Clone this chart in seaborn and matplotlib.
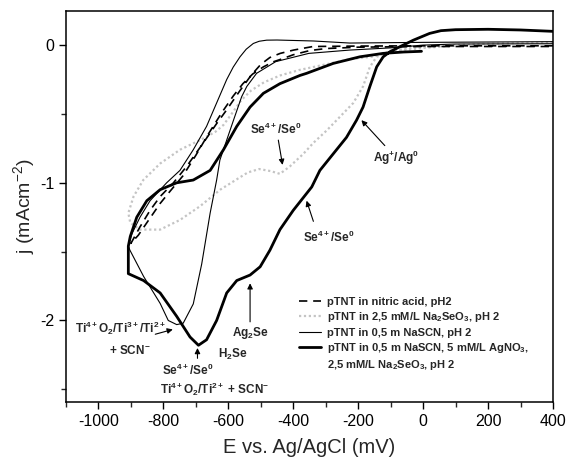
import matplotlib
matplotlib.use('Agg')
import matplotlib.pyplot as plt
import seaborn as sns
import numpy as np
import pandas as pd
from matplotlib.lines import Line2D
from matplotlib.ticker import MultipleLocator

# --- data (E in mV, j in mA cm^-2) ---
nitric_E = [400, 0, -200, -339, -399, -440, -472, -500, -530, -564, -605, -636, -677, -728,
            -769, -810, -841, -872, -900, -877, -851, -810, -779, -740, -700, -660, -620,
            -585, -555, -525, -492, -460, -431, -400, -350, -300, -200, 0, 400]
nitric_j = [-0.005, -0.005, -0.007, -0.01, -0.036, -0.06, -0.09, -0.14, -0.22, -0.33, -0.47,
            -0.57, -0.71, -0.88, -1.0, -1.1, -1.2, -1.32, -1.44, -1.38, -1.29, -1.15, -1.06,
            -0.95, -0.80, -0.64, -0.49, -0.37, -0.28, -0.21, -0.158, -0.12, -0.097, -0.07,
            -0.04, -0.025, -0.015, -0.01, -0.01]

selenite_E = [400, 200, 0, -100, -143, -164, -185, -215, -256, -297, -338, -369, -410, -441,
              -470, -505, -540, -564, -625, -687, -749, -810, -872, -902, -908, -892, -862,
              -810, -749, -687, -640, -615, -590, -560, -530, -490, -440, -380, -300, -220,
              -160, -100, 0, 100]
selenite_j = [0.02, 0.01, -0.01, -0.04, -0.085, -0.158, -0.30, -0.42, -0.52, -0.62, -0.71,
              -0.79, -0.88, -0.935, -0.915, -0.90, -0.925, -0.96, -1.05, -1.17, -1.27, -1.34,
              -1.34, -1.29, -1.22, -1.10, -0.98, -0.86, -0.76, -0.69, -0.63, -0.58, -0.50,
              -0.40, -0.33, -0.27, -0.22, -0.18, -0.14, -0.10, -0.085, -0.05, -0.02, -0.005]

nascn_E = [400, 0, -226, -338, -450, -482, -505, -523, -545, -564, -585, -605, -636, -667,
           -708, -749, -790, -841, -872, -897, -908, -903, -861, -810, -785, -759, -739, -708,
           -682, -656, -636, -626, -584, -559, -543, -513, -454, -352, -226, -100, 0, 100, 400]
nascn_j = [0.025, 0.02, 0.015, 0.03, 0.037, 0.036, 0.028, 0.012, -0.03, -0.085, -0.16, -0.25,
           -0.42, -0.59, -0.76, -0.91, -1.0, -1.13, -1.25, -1.37, -1.46, -1.49, -1.68, -1.876,
           -2.0, -2.03, -2.02, -1.88, -1.59, -1.22, -0.98, -0.835, -0.545, -0.375, -0.30,
           -0.205, -0.12, -0.06, -0.036, -0.02, 0.0, 0.008, 0.01]

full_E = [400, 300, 200, 100, 55, 20, -30, -72, -102, -123, -143, -164, -185, -205, -236,
          -277, -318, -343, -400, -441, -472, -502, -533, -574, -605, -636, -667, -692, -718,
          -759, -810, -861, -908, -908, -902, -882, -851, -810, -759, -708, -656, -615, -574,
          -533, -492, -441, -379, -359, -277, -195, -123, -60, -5]
full_j = [0.10, 0.11, 0.115, 0.112, 0.105, 0.085, 0.036, -0.012, -0.048, -0.085, -0.158,
          -0.30, -0.45, -0.545, -0.67, -0.79, -0.91, -1.03, -1.2, -1.34, -1.49, -1.61, -1.67,
          -1.71, -1.80, -2.0, -2.14, -2.18, -2.12, -1.97, -1.80, -1.71, -1.66, -1.46, -1.39,
          -1.25, -1.13, -1.05, -1.0, -0.98, -0.91, -0.76, -0.59, -0.45, -0.35, -0.28, -0.22,
          -0.205, -0.133, -0.085, -0.06, -0.05, -0.045]

labels = ['pTNT in nitric acid, pH2',
          'pTNT in 2,5 mM/L Na$_2$SeO$_3$, pH 2',
          'pTNT in 0,5 m NaSCN, pH 2',
          'pTNT in 0,5 m NaSCN, 5 mM/L AgNO$_3$,',
          '2,5 mM/L Na$_2$SeO$_3$, pH 2']

sns.set_theme(style='ticks')
plt.rcParams['font.family'] = ['Liberation Sans', 'DejaVu Sans']
plt.rcParams['mathtext.default'] = 'regular'
plt.rcParams['axes.unicode_minus'] = False

fig = plt.figure(figsize=(5.66, 4.63), dpi=100)
ax = fig.add_axes([0.1166, 0.1324, 0.8604, 0.8445])

styles = [
    (selenite_E, selenite_j, dict(color='#c4c4c4', lw=1.6, linestyle=(0, (1, 1.2)))),
    (nitric_E, nitric_j, dict(color='black', lw=1.2, linestyle=(0, (5, 3.5)))),
    (nascn_E, nascn_j, dict(color='black', lw=0.8, linestyle='-')),
    (full_E, full_j, dict(color='black', lw=2.0, linestyle='-')),
]
for E, j, kw in styles:
    df = pd.DataFrame({'E': E, 'j': j})
    sns.lineplot(data=df, x='E', y='j', ax=ax, sort=False, estimator=None, **kw)

ax.set_xlim(-1100, 400)
ax.set_ylim(-2.59, 0.25)
ax.xaxis.set_major_locator(MultipleLocator(200))
ax.xaxis.set_minor_locator(MultipleLocator(100))
ax.yaxis.set_major_locator(MultipleLocator(1))
ax.yaxis.set_minor_locator(MultipleLocator(0.5))
ax.tick_params(which='major', direction='out', length=5, width=1.0, labelsize=11.5, colors='black')
ax.tick_params(which='minor', direction='out', length=3.5, width=1.0)
for s in ax.spines.values():
    s.set_color('black')
    s.set_linewidth(1.1)
ax.set_xlabel('E vs. Ag/AgCl (mV)', fontsize=14.5, labelpad=7)
ax.set_ylabel('j (mAcm$^{-2}$)', fontsize=14, labelpad=2)

# legend
handles = [Line2D([], [], color='black', lw=1.2, linestyle=(0, (5, 3.5))),
           Line2D([], [], color='#c4c4c4', lw=1.6, linestyle=(0, (1, 1.2))),
           Line2D([], [], color='black', lw=0.8),
           Line2D([], [], color='black', lw=2.0),
           Line2D([], [], color='none')]
ax.legend(handles, labels, loc='upper left', bbox_to_anchor=(0.478, 0.268), frameon=False,
          borderpad=0, borderaxespad=0, handlelength=2.0, handletextpad=0.5, labelspacing=0.3,
          prop={'weight': 'bold', 'size': 8})

# annotations
bold = dict(fontsize=8.5, fontweight='bold', ha='center', va='center')
arr = dict(arrowstyle='-|>', color='black', lw=0.8, mutation_scale=8, shrinkA=0, shrinkB=0)
ax.text(-453, -0.615, 'Se$^{4+}$/Se$^{0}$', **bold)
ax.annotate('', xy=(-433, -0.87), xytext=(-446, -0.69), arrowprops=arr)
ax.text(-82, -0.82, 'Ag$^{+}$/Ag$^{0}$', **bold)
ax.annotate('', xy=(-190, -0.545), xytext=(-118, -0.73), arrowprops=arr)
ax.text(-290, -1.40, 'Se$^{4+}$/Se$^{0}$', **bold)
ax.annotate('', xy=(-359, -1.13), xytext=(-338, -1.28), arrowprops=arr)
ax.text(-533, -2.09, 'Ag$_2$Se', **bold)
ax.annotate('', xy=(-533, -1.73), xytext=(-533, -2.01), arrowprops=arr)
ax.text(-933, -2.06, 'Ti$^{4+}$O$_2$/Ti$^{3+}$/Ti$^{2+}$', **bold)
ax.text(-902, -2.215, '+ SCN$^{-}$', **bold)
ax.annotate('', xy=(-771, -2.065), xytext=(-825, -2.10), arrowprops=arr)
ax.text(-725, -2.365, 'Se$^{4+}$/Se$^{0}$', **bold)
ax.annotate('', xy=(-695, -2.20), xytext=(-695, -2.275), arrowprops=arr)
ax.text(-585, -2.25, 'H$_2$Se', **bold)
ax.text(-641, -2.50, 'Ti$^{4+}$O$_2$/Ti$^{2+}$ + SCN$^{-}$', **bold)

fig.savefig('out.png', dpi=100)
